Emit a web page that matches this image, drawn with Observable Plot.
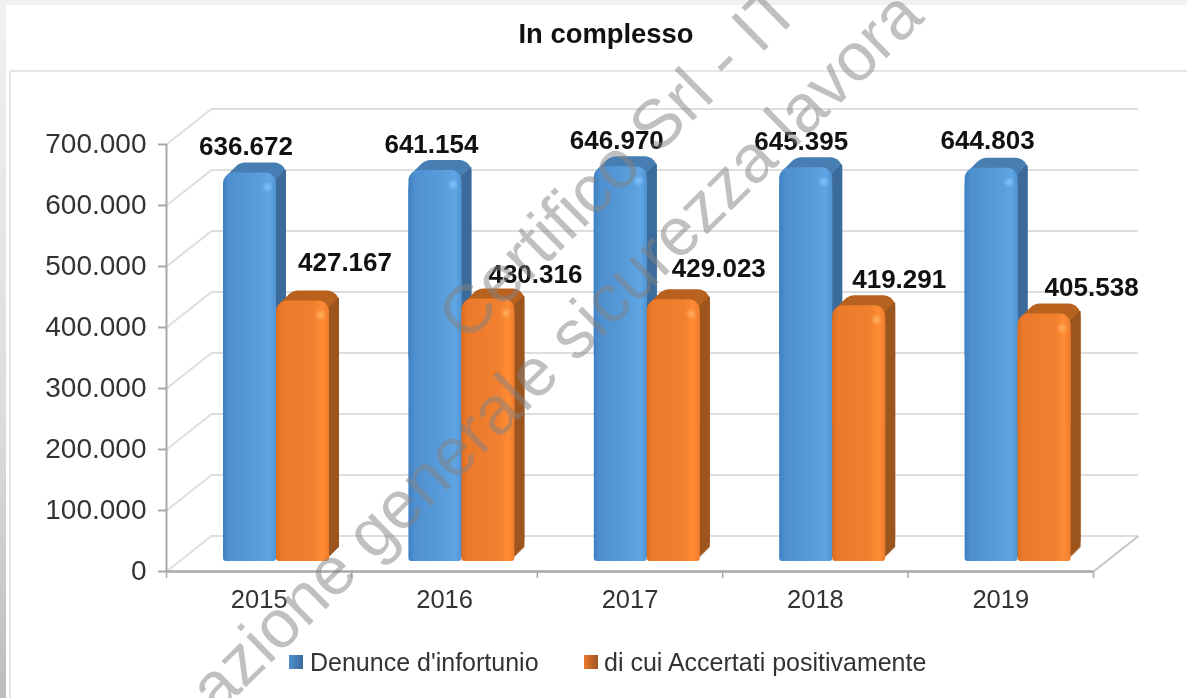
<!DOCTYPE html>
<html><head><meta charset="utf-8">
<script src="https://cdn.jsdelivr.net/npm/d3@7"></script>
<script src="https://cdn.jsdelivr.net/npm/@observablehq/plot@0.6"></script>
<style>
html,body{margin:0;padding:0;background:#fff;overflow:hidden}
#page{position:relative;width:1187px;height:698px;overflow:hidden;background:#fff;font-family:"Liberation Sans",Arial,sans-serif;filter:blur(.6px)}
#bandTop{position:absolute;left:0;top:0;width:1187px;height:5px;background:#f1f1f1}
#bandLeft{position:absolute;left:0;top:0;width:6px;height:698px;background:linear-gradient(to bottom,#f1f1f1,#dcdcdc 60%,#bdbdbd)}
#frame{position:absolute;left:9px;top:70px;right:-4px;bottom:-4px;border:2px solid #e6e6e6}
#title{position:relative;height:71px;line-height:67px;text-align:center;padding-left:25px;font-weight:bold;font-size:27.4px;color:#111}
#chart{position:relative}
#legend{position:relative;height:58px;font-size:25px;color:#333}
.lg{position:absolute;top:8px;white-space:nowrap;line-height:28px}
.sw{position:absolute;top:15px;width:14px;height:14px}
.wm{position:absolute;transform-origin:0 100%;font-size:68px;line-height:1;white-space:nowrap;color:rgba(130,130,130,.5);pointer-events:none}
</style></head>
<body>
<div id="page">
  <div id="bandTop"></div><div id="bandLeft"></div><div id="frame"></div>
  <div id="title">In complesso</div>
  <div id="chart"></div>
  <div id="legend"></div>
  <div class="wm" style="left:473px;top:283px;transform:rotate(-44.5deg)">Certifico Srl - IT</div>
  <div class="wm" style="left:224px;top:655px;transform:rotate(-44.5deg)">azione generale sicurezza lavora</div>
</div>
<script>
// Data
const years = ["2015", "2016", "2017", "2018", "2019"];
const denunce = [636672, 641154, 646970, 645395, 644803];
const accertati = [427167, 430316, 429023, 419291, 405538];
const yTicks = [0, 100000, 200000, 300000, 400000, 500000, 600000, 700000];
const seriesNames = ["Denunce d'infortunio", "di cui Accertati positivamente"];

// Layout and style (separate from the data)
const fmt = d3.formatLocale({decimal: ",", thousands: ".", grouping: [3], currency: ["", "€"]}).format(",d");
const pxPerCat = 185.4, pxPerVal = 0.6106 / 1000;
const depthX = 45 / pxPerCat, depthV = 35.5 / pxPerVal;   // wall depth in data units
const baseV = 10 / pxPerVal;                              // bars stand on the floor, behind the front edge
const slot = {a: [57 / pxPerCat, 110 / pxPerCat], b: [110 / pxPerCat, 163 / pxPerCat]};
const extrude = 10;
const ink = "#333";
const style = {
  a: {front: "url(#gBlue)", top: "#477fb3", side: "#3c6b9b"},
  b: {front: "url(#gOrange)", top: "#b8621f", side: "#9c551f"}
};
const labelDx = {a: [-4, -4, -4, -5, -4], b: [42, 47, 45, 40, 47]};
const labelDy = {a: [-26, -26, -26, -26, -27], b: [-38, -24, -31, -26, -26]};

const rowsOf = (vals, s) => vals.map((v, i) => ({i, v, x1: i + slot[s][0], x2: i + slot[s][1]}));

function barMarks(vals, s) {
  const rows = rowsOf(vals, s), st = style[s], marks = [];
  const narrow = 1.5 / pxPerCat;
  for (let k = extrude; k >= 1; k--) {
    marks.push(Plot.rect(rows, {x1: "x1", x2: "x2", y1: () => baseV, y2: d => baseV + d.v, dx: k, dy: -k, fill: st.top, rx: 12}));
  }
  for (let k = extrude; k >= 1; k--) {
    marks.push(Plot.rect(rows, {x1: d => d.x2 - narrow, x2: "x2", y1: () => baseV + 6000, y2: d => baseV + d.v - 12000, dx: k, dy: -k, fill: st.side}));
  }
  return marks;
}
function frontMarks(vals, s) {
  const rows = rowsOf(vals, s), st = style[s];
  return [
    Plot.rect(rows, {x1: "x1", x2: "x2", y1: d => baseV + d.v / 2, y2: d => baseV + d.v, fill: st.front, rx: 11}),
    Plot.rect(rows, {x1: "x1", x2: "x2", y1: () => baseV, y2: d => baseV + d.v - 25000, fill: st.front, rx: 3}),
    Plot.dot(rows, {x: d => d.x2 - 9 / pxPerCat, y: d => baseV + d.v - 14 / pxPerVal, r: 6, fill: `url(#hl${s})`})
  ];
}
function labelMarks(vals, s) {
  return rowsOf(vals, s).map(d => Plot.text([d], {
    x: r => (r.x1 + r.x2) / 2, y: r => baseV + r.v, text: r => fmt(r.v),
    dx: labelDx[s][d.i], dy: labelDy[s][d.i], fontSize: 26, fontWeight: "bold", fill: "#111"
  }));
}

const grid = "#dedede", axisC = "#a9a9a9";
const catEdges = d3.range(years.length + 1), catMids = years.map((_, i) => i + 0.5);
const plot = Plot.plot({
  width: 1187, height: 569,
  marginLeft: 166, marginRight: 49, marginTop: 37.5, marginBottom: 69,
  style: {background: "transparent", overflow: "visible", fontFamily: "'Liberation Sans',Arial,sans-serif"},
  x: {type: "linear", domain: [0, years.length + depthX], axis: null},
  y: {domain: [0, 700000 + depthV], axis: null},
  marks: [
    // back wall grid, left wall diagonals, floor's right edge
    Plot.ruleY(yTicks, {y: d => d + depthV, x1: () => depthX, x2: () => years.length + depthX, stroke: grid, strokeWidth: 2}),
    Plot.link(yTicks, {x1: () => 0, y1: d => d, x2: () => depthX, y2: d => d + depthV, stroke: grid, strokeWidth: 2}),
    Plot.link([0], {x1: () => years.length, y1: d => d, x2: () => years.length + depthX, y2: d => d + depthV, stroke: "#c4c4c4", strokeWidth: 2}),
    // axes
    Plot.axisY({anchor: "left", ticks: yTicks, tickSize: 8, tickFormat: () => "", label: null, stroke: axisC, strokeWidth: 2}),
    Plot.axisY({anchor: "left", ticks: yTicks, tickSize: 0, tickPadding: 20, tickFormat: fmt, label: null, fontSize: 28, fill: ink}),
    Plot.ruleX([0], {y1: 0, y2: 700000, stroke: axisC, strokeWidth: 2}),
    Plot.ruleY([0], {x1: () => 0, x2: () => years.length, stroke: axisC, strokeWidth: 2.5}),
    Plot.axisX({anchor: "bottom", ticks: catEdges, tickSize: 7, tickFormat: () => "", label: null, stroke: axisC, strokeWidth: 1.5}),
    Plot.axisX({anchor: "bottom", ticks: catMids, tickSize: 0, tickPadding: 18, tickFormat: d => years[Math.floor(d)], label: null, fontSize: 25.5, fill: ink}),
    // bars, category by category so nearer faces cover farther ones
    ...barMarks(denunce, "a"), ...frontMarks(denunce, "a"),
    ...barMarks(accertati, "b"), ...frontMarks(accertati, "b"),
    ...labelMarks(denunce, "a"), ...labelMarks(accertati, "b")
  ]
});

// Gradients used by the bar fills
const defs = d3.select(plot).append("defs");
function hGrad(id, stops) {
  const g = defs.append("linearGradient").attr("id", id);
  stops.forEach(([o, c]) => g.append("stop").attr("offset", o).attr("stop-color", c));
}
hGrad("gBlue", [[0, "#3f80c2"], [.12, "#4f90d0"], [.7, "#5a9edc"], [.88, "#60a5e4"], [1, "#5094d2"]]);
hGrad("gOrange", [[0, "#dd6d20"], [.12, "#ec7a2c"], [.7, "#f08030"], [.88, "#ff8b33"], [1, "#ec7b2c"]]);
for (const [id, c] of [["hla", "#7cc4ff"], ["hlb", "#ffb060"]]) {
  const g = defs.append("radialGradient").attr("id", id);
  g.append("stop").attr("offset", 0).attr("stop-color", c);
  g.append("stop").attr("offset", 1).attr("stop-color", c).attr("stop-opacity", 0);
}
document.getElementById("chart").append(plot);

// Legend
const legend = d3.select("#legend");
[[289, 310, "linear-gradient(90deg,#4f90d0,#3c6b9b)"], [584, 604, "linear-gradient(90deg,#ec7a2c,#9c551f)"]].forEach(([sx, tx, bg], i) => {
  legend.append("div").attr("class", "sw").style("left", sx + "px").style("background", bg);
  legend.append("div").attr("class", "lg").style("left", tx + "px").text(seriesNames[i]);
});
</script>
</body></html>
